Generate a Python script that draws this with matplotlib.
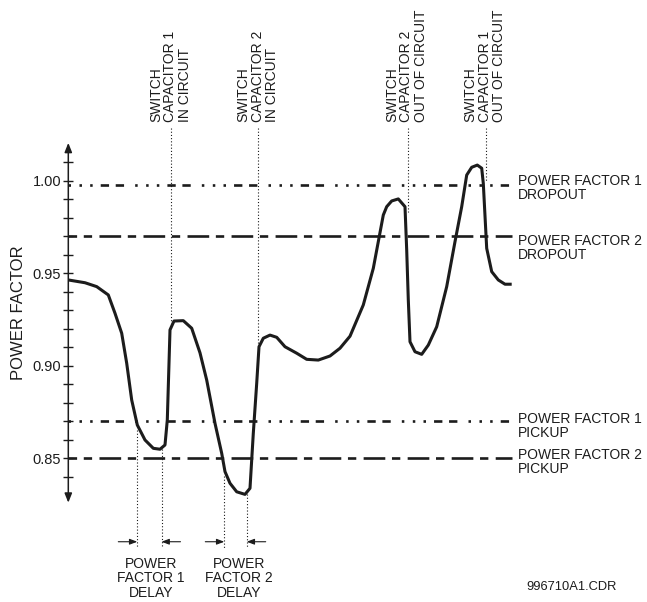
import numpy as np
import matplotlib
matplotlib.use("Agg")
import matplotlib.pyplot as plt
from matplotlib.ticker import FixedLocator, FixedFormatter

plt.rcParams['font.family'] = ['Liberation Sans', 'DejaVu Sans']
plt.rcParams['lines.scale_dashes'] = False

# ---------------- data ----------------
# time axis (arbitrary units) and power factor
curve_t = [68.3, 85, 96.7, 108.3, 115, 121.7, 126.7, 131.7, 137.3, 145, 153.3, 160, 165,
           167.3, 170, 174, 183.3, 191.7, 200, 206.7, 215, 221.7, 225, 230, 236.7, 245,
           250, 253.3, 256.7, 259, 263.3, 270, 276.7, 285, 296.7, 306.7, 318.3, 330, 340,
           350, 363.3, 373.3, 383.3, 386.7, 391.7, 398.3, 405, 406.7, 408.3, 410, 415,
           421.7, 428.3, 436.7, 446.7, 455, 461.7, 466.7, 471.7, 477.3, 481.7, 483.3,
           486.7, 491.7, 498.3, 505, 511.7]
curve_pf = [0.9464, 0.9449, 0.9428, 0.9383, 0.9284, 0.9176, 0.9014, 0.8815, 0.8680, 0.8599,
            0.8554, 0.8549, 0.8572, 0.8707, 0.9194, 0.9242, 0.9244, 0.9203, 0.9070, 0.8923,
            0.8689, 0.8527, 0.8428, 0.8365, 0.8319, 0.8305, 0.8338, 0.8635, 0.8905, 0.9103,
            0.9149, 0.9166, 0.9154, 0.9103, 0.9068, 0.9035, 0.9031, 0.9053, 0.9095, 0.9160,
            0.9329, 0.9527, 0.9815, 0.9860, 0.9891, 0.9902, 0.9860, 0.9626, 0.9356, 0.9130,
            0.9076, 0.9062, 0.9112, 0.9211, 0.9428, 0.9671, 0.9860, 1.0031, 1.0073, 1.0085,
            1.0068, 0.9986, 0.9635, 0.9509, 0.9464, 0.9441, 0.9441]

# threshold lines
thr_names = ["POWER FACTOR 1\nDROPOUT", "POWER FACTOR 2\nDROPOUT",
             "POWER FACTOR 1\nPICKUP", "POWER FACTOR 2\nPICKUP"]
thr_values = [0.998, 0.970, 0.870, 0.850]
thr_label_base = [0.9900, 0.9577, 0.8617, 0.8421]   # last-line baseline of label
thr_kind = [1, 2, 1, 2]

# switching events
event_t = [170.7, 257.7, 407.7, 485.7]
event_labels = ["SWITCH\nCAPACITOR 1\nIN CIRCUIT", "SWITCH\nCAPACITOR 2\nIN CIRCUIT",
                "SWITCH\nCAPACITOR 2\nOUT OF CIRCUIT", "SWITCH\nCAPACITOR 1\nOUT OF CIRCUIT"]
event_label_center = [170.5, 258.0, 406.5, 485.0]

# delay intervals
delay_start = [137.3, 224.3]
delay_end = [161.5, 246.7]
delay_labels = ["POWER\nFACTOR 1\nDELAY", "POWER\nFACTOR 2\nDELAY"]
delay_label_center = [151.0, 239.0]

# y axis ticks
major_ticks = [0.85, 0.90, 0.95, 1.00]
major_labels = ["0.85", "0.90", "0.95", "1.00"]
minor_ticks = [0.84, 0.86, 0.87, 0.88, 0.89, 0.91, 0.92, 0.93, 0.94, 0.96, 0.97, 0.98, 0.99, 1.01]

# ---------------- layout constants ----------------
AXIS_T = 68.3
LINE_END_T = 512.0
AXIS_TOP = 1.0205
AXIS_BOTTOM = 0.826
EVENT_TOP = 1.0285
EVENT_LABEL_BOTTOM = 1.0318
DELAY_BOTTOM = 0.8015
DELAY_ARROW_Y = 0.8049
DELAY_ARROW_LEN = 19.0
DELAY_LABEL_BASE = 0.7752
INK = "#1c1c1c"

fig = plt.figure(figsize=(6.47, 6.02), dpi=100)
ax = fig.add_axes([0, 0, 1, 1])
ax.set_xlim(0, 647)
ax.set_ylim(0.85 - 143.7 / 1850, 0.85 + 458.3 / 1850)
for s in ("top", "right", "bottom"):
    ax.spines[s].set_visible(False)
ax.spines["left"].set_position(("data", AXIS_T))
ax.spines["left"].set_visible(False)
ax.set_xticks([])

ax.yaxis.set_major_locator(FixedLocator(major_ticks))
ax.yaxis.set_major_formatter(FixedFormatter(major_labels))
ax.yaxis.set_minor_locator(FixedLocator(minor_ticks))
ax.tick_params(axis="y", which="both", direction="inout", length=7.6, width=1.0,
               color=INK, labelcolor=INK, pad=1.2, labelsize=10.5)

# axis line with arrowheads
ax.annotate("", xy=(AXIS_T, AXIS_TOP), xytext=(AXIS_T, AXIS_BOTTOM),
            arrowprops=dict(arrowstyle="<|-|>,head_length=0.55,head_width=0.22",
                            color=INK, lw=1.1, shrinkA=0, shrinkB=0))

ax.text(18.3, 0.9285, "POWER FACTOR", rotation=90, ha="center", va="center",
        fontsize=12, color=INK)

# threshold lines
dash_styles = {
    1: (0, (1.8, 6.1, 1.8, 5.9, 1.8, 5.8, 6.0, 4.8, 6.0, 8.0)),
    2: (9.4, (15.6, 4.8, 6.0, 5.3)),
}
for name, val, lab, kind in zip(thr_names, thr_values, thr_label_base, thr_kind):
    ax.plot([AXIS_T, LINE_END_T], [val, val], color=INK, lw=1.9,
            linestyle=dash_styles[kind], solid_capstyle="butt", dash_capstyle="butt")
    ax.text(518.3, lab, name, ha="left", va="baseline", fontsize=10, color=INK,
            linespacing=1.0)

# main curve
ax.plot(curve_t, curve_pf, color=INK, lw=2.2, solid_joinstyle="round",
        solid_capstyle="butt", zorder=5)

ct = np.array(curve_t)
cp = np.array(curve_pf)


def curve_max_near(t, w=2.5):
    s = np.linspace(t - w, t + w, 21)
    return np.interp(s, ct, cp).max()


def curve_min_near(t, w=2.5):
    s = np.linspace(t - w, t + w, 21)
    return np.interp(s, ct, cp).min()


dot_style = (0, (0.8, 1.5))
for t, lab, cx in zip(event_t, event_labels, event_label_center):
    ax.plot([t, t], [EVENT_TOP, curve_max_near(t)], color=INK, lw=0.8,
            linestyle=dot_style, zorder=3)
    ax.text(cx, EVENT_LABEL_BOTTOM, lab, rotation=90, ha="center", va="bottom",
            multialignment="left", fontsize=10, color=INK, linespacing=1.02)

for t0, t1, lab, cx in zip(delay_start, delay_end, delay_labels, delay_label_center):
    for t in (t0, t1):
        ax.plot([t, t], [curve_min_near(t), DELAY_BOTTOM], color=INK, lw=0.8,
                linestyle=dot_style, zorder=3)
    ax.annotate("", xy=(t0, DELAY_ARROW_Y), xytext=(t0 - DELAY_ARROW_LEN, DELAY_ARROW_Y),
                arrowprops=dict(arrowstyle="-|>,head_length=0.45,head_width=0.17",
                                color=INK, lw=0.8, shrinkA=0, shrinkB=0))
    ax.annotate("", xy=(t1, DELAY_ARROW_Y), xytext=(t1 + DELAY_ARROW_LEN, DELAY_ARROW_Y),
                arrowprops=dict(arrowstyle="-|>,head_length=0.45,head_width=0.17",
                                color=INK, lw=0.8, shrinkA=0, shrinkB=0))
    ax.text(cx, DELAY_LABEL_BASE, lab, ha="center", va="baseline", multialignment="center",
            fontsize=10, color=INK, linespacing=1.05)

ax.text(526.7, 0.7788, "996710A1.CDR", ha="left", va="baseline", fontsize=9.3, color=INK)

fig.savefig("out.png", dpi=100)
